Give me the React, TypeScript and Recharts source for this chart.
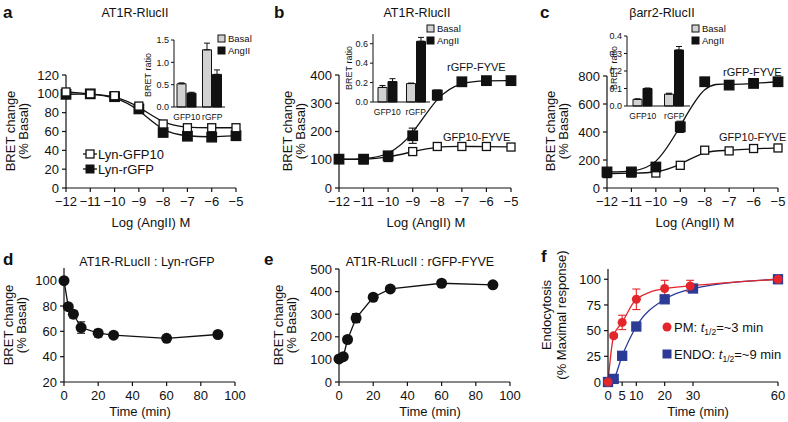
// Six-panel BRET figure: dose-response curves (a-c) with bar insets,
// time courses (d, e) and endocytosis kinetics (f).

import { ComposedChart, Line, Bar, XAxis, YAxis, ErrorBar } from 'recharts'

const W = 788
const H = 422
const FONT = '"Liberation Sans", Arial, Helvetica, sans-serif'
const INK = '#111'

// ---- panels a-c: log dose ----
const doses = [-12, -11, -10, -9, -8, -7, -6, -5]
const doseTicks = doses

const aLynGfp10 = [102, 100, 98, 87, 68, 64, 64, 64]
const aLynGfp10Err = [0, 0, 1, 2, 2, 1, 1, 1]
const aLynRgfp = [99.5, 100, 97, 84, 59, 55, 54, 55.5]
const aLynRgfpErr = [0, 0, 1, 2, 2, 1, 1, 1]

const bRgfpFyve = [102, 102, 114, 185, 329, 376, 380, 380]
const bRgfpFyveErr = [0, 0, 5, 27, 18, 6, 6, 10]
const bGfp10Fyve = [102, 100, 108, 129, 147, 147, 147, 145]
const bGfp10FyveErr = [0, 0, 3, 3, 3, 3, 3, 3]

const cRgfpFyve = [115, 115, 150, 437, 759, 735, 747, 759]
const cRgfpFyveErr = [0, 0, 10, 40, 5, 15, 10, 10]
const cGfp10Fyve = [103, 107, 107, 162, 270, 265, 282, 286]
const cGfp10FyveErr = [0, 0, 3, 5, 5, 5, 5, 5]

// ---- insets: BRET ratio ----
const insetCats = ['GFP10', 'rGFP']
const aBasal = [0.52, 1.28]
const aBasalErr = [0.02, 0.15]
const aAngII = [0.31, 0.73]
const aAngIIErr = [0.02, 0.1]

const bBasal = [0.15, 0.19]
const bBasalErr = [0.02, 0.005]
const bAngII = [0.21, 0.625]
const bAngIIErr = [0.03, 0.04]

const cBasal = [0.038, 0.068]
const cBasalErr = [0.003, 0.005]
const cAngII = [0.1, 0.32]
const cAngIIErr = [0.003, 0.02]

// ---- panels d, e: time courses ----
const dTime = [0, 2.5, 5.5, 10, 20, 29, 60, 90]
const dLynRgfp = [100, 79.5, 73.5, 63, 58.5, 57, 54.5, 57.5]
const dLynRgfpErr = [0, 1.5, 3, 4.5, 3, 2, 1, 1]

const eTime = [0, 2.5, 5, 10, 20, 30, 60, 90]
const eRgfpFyve = [102, 112, 188, 283, 375, 412, 437, 430]
const eRgfpFyveErr = [0, 3, 5, 20, 6, 5, 5, 5]

// ---- panel f: endocytosis ----
const fPmTime = [0, 2, 5, 10, 20, 29, 60]
const fPm = [0, 45, 58, 80.5, 91, 93.5, 100]
const fPmErr = [0, 2, 7, 10, 8, 5.5, 3]
const fEndoTime = [0, 2, 5, 10, 20, 30, 60]
const fEndo = [0, 3, 25.5, 54, 80.5, 91, 100]
const fEndoErr = [0, 0, 1, 1, 1, 1, 1]

const RED = '#e3262b'
const BLUE = '#2c3b96'

const pts = (xs: number[], ys: number[], es: number[]) =>
  xs.map((x, i) => ({ x, y: ys[i], err: es[i] }))

const bars = (basal: number[], be: number[], ang: number[], ae: number[]) =>
  insetCats.map((cat, i) => ({
    cat,
    basal: basal[i],
    basalErr: [0, be[i]],
    angii: ang[i],
    angiiErr: [0, ae[i]],
  }))

const minus = (v: number) => (v < 0 ? '\u2212' + Math.abs(v) : String(v))

// marker renderers
const square = (size: number, fill: string, stroke: string) => (p: any) => {
  if (p.cx == null || p.cy == null) return <g key={p.index} />
  return (
    <rect
      key={p.index}
      x={p.cx - size / 2}
      y={p.cy - size / 2}
      width={size}
      height={size}
      fill={fill}
      stroke={stroke}
      strokeWidth={1.3}
    />
  )
}
const circle = (r: number, fill: string) => (p: any) => {
  if (p.cx == null || p.cy == null) return <g key={p.index} />
  return <circle key={p.index} cx={p.cx} cy={p.cy} r={r} fill={fill} />
}

type Box = { l: number; t: number; r: number; b: number }
const YW = 40
const XH = 30
const marginOf = (bx: Box) => ({
  left: bx.l - YW,
  top: bx.t,
  right: W - bx.r,
  bottom: H - bx.b - XH,
})

const layer: React.CSSProperties = { position: 'absolute', left: 0, top: 0 }

function MainPanel(props: {
  box: Box
  xDomain: [number, number]
  xTicks: number[]
  yDomain: [number, number]
  yTicks: number[]
  xFmt?: (v: number) => string
  children: React.ReactNode
}) {
  const tick = { fontSize: 13, fill: INK, fontFamily: FONT }
  return (
    <div style={layer}>
      <ComposedChart width={W} height={H} margin={marginOf(props.box)}>
        <XAxis
          type="number"
          dataKey="x"
          domain={props.xDomain}
          ticks={props.xTicks}
          interval={0}
          tickFormatter={props.xFmt}
          height={XH}
          tick={tick}
          tickSize={4}
          tickMargin={5}
          stroke={INK}
          strokeWidth={1.2}
        />
        <YAxis
          type="number"
          domain={props.yDomain}
          ticks={props.yTicks}
          interval={0}
          width={YW}
          tick={tick}
          tickSize={4}
          tickMargin={3}
          stroke={INK}
          strokeWidth={1.2}
        />
        {props.children}
      </ComposedChart>
    </div>
  )
}

function Inset(props: {
  box: Box
  data: any[]
  yDomain: [number, number]
  yTicks: number[]
}) {
  const tick = { fontSize: 8.5, fill: INK, fontFamily: FONT }
  return (
    <div style={layer}>
      <ComposedChart
        width={W}
        height={H}
        data={props.data}
        margin={marginOf(props.box)}
        barGap={1}
        barCategoryGap="12%"
      >
        <XAxis
          dataKey="cat"
          type="category"
          height={XH}
          tick={tick}
          tickLine={false}
          tickMargin={1}
          interval={0}
          stroke={INK}
        />
        <YAxis
          type="number"
          domain={props.yDomain}
          ticks={props.yTicks}
          interval={0}
          width={YW}
          tick={{ ...tick, fontSize: 9 }}
          tickSize={3}
          tickMargin={2}
          tickFormatter={(v: number) => v.toFixed(1)}
          stroke={INK}
        />
        <Bar dataKey="basal" fill="#d2d2d2" stroke={INK} strokeWidth={1} barSize={9} isAnimationActive={false}>
          <ErrorBar dataKey="basalErr" width={3} stroke={INK} strokeWidth={1} />
        </Bar>
        <Bar dataKey="angii" fill={INK} stroke={INK} strokeWidth={1} barSize={9} isAnimationActive={false}>
          <ErrorBar dataKey="angiiErr" width={3} stroke={INK} strokeWidth={1} />
        </Bar>
      </ComposedChart>
    </div>
  )
}

const line = (
  data: any[],
  type: 'monotone' | 'linear' | 'basis',
  stroke: string,
  dot: any,
  key: string
) => (
  <Line
    key={key}
    data={data}
    dataKey="y"
    type={type}
    stroke={stroke}
    strokeWidth={1.3}
    dot={dot}
    activeDot={false}
    isAnimationActive={false}
  >
    <ErrorBar dataKey="err" width={4} stroke={stroke} strokeWidth={1.1} />
  </Line>
)

function Legend7(props: { x: number; y: number }) {
  const { x, y } = props
  return (
    <g fontSize={9.5} fill={INK}>
      <rect x={x} y={y} width={7} height={7} fill="#d2d2d2" stroke={INK} />
      <text x={x + 10} y={y + 7}>Basal</text>
      <rect x={x} y={y + 12} width={7} height={7} fill={INK} stroke={INK} />
      <text x={x + 10} y={y + 19}>AngII</text>
    </g>
  )
}

function YLabel(props: { x1: number; x2: number; y: number; l1: string; l2: string; size?: number }) {
  const s = props.size ?? 13
  return (
    <g fontSize={s} fill={INK} textAnchor="middle">
      <text transform={`translate(${props.x1},${props.y}) rotate(-90)`}>{props.l1}</text>
      <text transform={`translate(${props.x2},${props.y}) rotate(-90)`}>{props.l2}</text>
    </g>
  )
}

function Overlay() {
  return (
    <svg width={W} height={H} style={{ ...layer, fontFamily: FONT }}>
      {/* panel letters */}
      <g fontSize={17} fontWeight="bold" fill={INK}>
        <text x={3} y={18}>a</text>
        <text x={274} y={18}>b</text>
        <text x={540} y={18}>c</text>
        <text x={3} y={265}>d</text>
        <text x={264} y={265}>e</text>
        <text x={541} y={262}>f</text>
      </g>
      {/* titles */}
      <g fontSize={12.5} fill={INK} textAnchor="middle">
        <text x={135} y={17}>AT1R-RlucII</text>
        <text x={417} y={17}>AT1R-RlucII</text>
        <text x={662} y={17}>βarr2-RlucII</text>
        <text x={147} y={266}>AT1R-RLucII : Lyn-rGFP</text>
        <text x={420} y={266}>AT1R-RLucII : rGFP-FYVE</text>
      </g>
      <g fontSize={13} fill={INK} textAnchor="middle">
        <text x={151} y={227}>Log (AngII) M</text>
        <text x={426} y={227}>Log (AngII) M</text>
        <text x={695} y={227}>Log (AngII) M</text>
        <text x={140} y={416}>Time (min)</text>
        <text x={430} y={416}>Time (min)</text>
        <text x={698} y={416}>Time (min)</text>
      </g>
      <YLabel x1={15} x2={28} y={131} l1="BRET change" l2="(% Basal)" />
      <YLabel x1={292} x2={305} y={131} l1="BRET change" l2="(% Basal)" />
      <YLabel x1={555} x2={568} y={131} l1="BRET change" l2="(% Basal)" />
      <YLabel x1={13} x2={26} y={325} l1="BRET change" l2="(% Basal)" />
      <YLabel x1={283} x2={296} y={325} l1="BRET change" l2="(% Basal)" />
      <YLabel x1={551} x2={566} y={315} l1="Endocytosis" l2="(% Maximal response)" />
      {/* inset y labels */}
      <g fontSize={9} fill={INK} textAnchor="middle">
        <text transform="translate(151,75) rotate(-90)">BRET ratio</text>
        <text transform="translate(352,68) rotate(-90)">BRET ratio</text>
        <text transform="translate(617,68) rotate(-90)">BRET ratio</text>
      </g>
      <Legend7 x={218} y={35} />
      <Legend7 x={427} y={25} />
      <Legend7 x={692} y={25} />
      {/* panel a legend */}
      <g fontSize={13} fill={INK}>
        <line x1={83} x2={97} y1={154} y2={154} stroke={INK} strokeWidth={1.3} />
        <rect x={86} y={150} width={8} height={8} fill="#fff" stroke={INK} strokeWidth={1.3} />
        <text x={98} y={158.5}>Lyn-GFP10</text>
        <line x1={83} x2={97} y1={169} y2={169} stroke={INK} strokeWidth={1.3} />
        <rect x={85.5} y={164.5} width={9} height={9} fill={INK} />
        <text x={98} y={173.5}>Lyn-rGFP</text>
      </g>
      {/* series labels b, c */}
      <g fontSize={11} fill={INK}>
        <text x={447} y={71}>rGFP-FYVE</text>
        <text x={443} y={141}>GFP10-FYVE</text>
        <text x={723} y={76}>rGFP-FYVE</text>
        <text x={719} y={141}>GFP10-FYVE</text>
      </g>
      {/* panel f legend */}
      <g fontSize={13} fill={INK}>
        <circle cx={667} cy={327} r={4.5} fill={RED} />
        <text x={674} y={331.5}>
          PM: <tspan fontStyle="italic">t</tspan>
          <tspan fontSize={8.5} dy={3}>1/2</tspan>
          <tspan dy={-3}>=~3 min</tspan>
        </text>
        <rect x={662.5} y={349.5} width={9} height={9} fill={BLUE} />
        <text x={674} y={358.5}>
          ENDO: <tspan fontStyle="italic">t</tspan>
          <tspan fontSize={8.5} dy={3}>1/2</tspan>
          <tspan dy={-3}>=~9 min</tspan>
        </text>
      </g>
    </svg>
  )
}

export default function App() {
  const openSq = square(8, '#fff', INK)
  const fillSq = square(9.5, INK, INK)
  const dotBlack = circle(5.5, INK)
  return (
    <div
      style={{
        position: 'absolute',
        left: 0,
        top: 0,
        width: W,
        height: H,
        background: '#fff',
        fontFamily: FONT,
        overflow: 'hidden',
      }}
    >
      {/* a */}
      <MainPanel
        box={{ l: 66, t: 75, r: 236, b: 188 }}
        xDomain={[-12, -5]}
        xTicks={doseTicks}
        xFmt={minus}
        yDomain={[0, 120]}
        yTicks={[0, 20, 40, 60, 80, 100, 120]}
      >
        {line(pts(doses, aLynRgfp, aLynRgfpErr), 'basis', INK, fillSq, 'a2')}
        {line(pts(doses, aLynGfp10, aLynGfp10Err), 'basis', INK, openSq, 'a1')}
      </MainPanel>
      <Inset box={{ l: 174, t: 40, r: 225, b: 107 }} data={bars(aBasal, aBasalErr, aAngII, aAngIIErr)} yDomain={[0, 1.5]} yTicks={[0, 0.5, 1, 1.5]} />

      {/* b */}
      <MainPanel
        box={{ l: 339, t: 75, r: 511, b: 188 }}
        xDomain={[-12, -5]}
        xTicks={doseTicks}
        xFmt={minus}
        yDomain={[0, 400]}
        yTicks={[0, 100, 200, 300, 400]}
      >
        {line(pts(doses, bGfp10Fyve, bGfp10FyveErr), 'basis', INK, openSq, 'b1')}
        {line(pts(doses, bRgfpFyve, bRgfpFyveErr), 'basis', INK, fillSq, 'b2')}
      </MainPanel>
      <Inset box={{ l: 373, t: 34, r: 430, b: 102 }} data={bars(bBasal, bBasalErr, bAngII, bAngIIErr)} yDomain={[0, 0.7]} yTicks={[0, 0.2, 0.4, 0.6]} />

      {/* c */}
      <MainPanel
        box={{ l: 607, t: 76, r: 778, b: 188 }}
        xDomain={[-12, -5]}
        xTicks={doseTicks}
        xFmt={minus}
        yDomain={[0, 800]}
        yTicks={[0, 200, 400, 600, 800]}
      >
        {line(pts(doses, cGfp10Fyve, cGfp10FyveErr), 'basis', INK, openSq, 'c1')}
        {line(pts(doses, cRgfpFyve, cRgfpFyveErr), 'basis', INK, fillSq, 'c2')}
      </MainPanel>
      <Inset box={{ l: 627, t: 36, r: 690, b: 106 }} data={bars(cBasal, cBasalErr, cAngII, cAngIIErr)} yDomain={[0, 0.4]} yTicks={[0, 0.1, 0.2, 0.3, 0.4]} />

      {/* d */}
      <MainPanel
        box={{ l: 64, t: 268, r: 235, b: 382 }}
        xDomain={[0, 100]}
        xTicks={[0, 20, 40, 60, 80, 100]}
        yDomain={[20, 110]}
        yTicks={[20, 40, 60, 80, 100]}
      >
        {line(pts(dTime, dLynRgfp, dLynRgfpErr), 'linear', INK, dotBlack, 'd1')}
      </MainPanel>

      {/* e */}
      <MainPanel
        box={{ l: 339, t: 269, r: 510, b: 382 }}
        xDomain={[0, 100]}
        xTicks={[0, 20, 40, 60, 80, 100]}
        yDomain={[0, 500]}
        yTicks={[0, 100, 200, 300, 400, 500]}
      >
        {line(pts(eTime, eRgfpFyve, eRgfpFyveErr), 'linear', INK, dotBlack, 'e1')}
      </MainPanel>

      {/* f */}
      <MainPanel
        box={{ l: 608, t: 269, r: 778, b: 382 }}
        xDomain={[0, 60]}
        xTicks={[0, 5, 10, 20, 30, 60]}
        yDomain={[0, 110]}
        yTicks={[0, 25, 50, 75, 100]}
      >
        {line(pts(fEndoTime, fEndo, fEndoErr), 'monotone', BLUE, square(9, BLUE, BLUE), 'f2')}
        {line(pts(fPmTime, fPm, fPmErr), 'monotone', RED, circle(4.5, RED), 'f1')}
      </MainPanel>

      <Overlay />
    </div>
  )
}
